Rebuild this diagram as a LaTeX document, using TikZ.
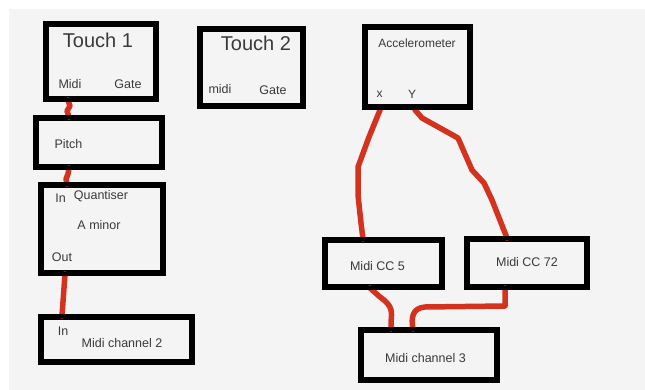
\documentclass[tikz,border=0pt]{standalone}
\usepackage{fontspec}
\setmainfont{Liberation Sans}
\usetikzlibrary{calc}
\definecolor{bgc}{HTML}{F4F4F4}
\definecolor{wirec}{HTML}{D2321E}
\definecolor{txtc}{HTML}{3A3A3A}
\tikzset{
  blk/.style={draw=black, line width=4pt, fill=bgc, inner sep=0pt},
  lbl/.style={text=txtc, font=\fontsize{12.5}{14}\selectfont, inner sep=0pt},
  ttl/.style={text=txtc, font=\fontsize{20}{23}\selectfont, inner sep=0pt},
  tiny/.style={text=txtc, font=\fontsize{12}{14}\selectfont, inner sep=0pt},
  wire/.style={draw=wirec, line width=5.5pt, line cap=round, line join=round},
}
\begin{document}
\begin{tikzpicture}[x=1pt,y=-1pt]
\useasboundingbox (0,0) rectangle (645,390);
\fill[white] (0,0) rectangle (645,390);
\fill[bgc] (9,9) rectangle (645,390);

% boxes
\node[blk, minimum width=108, minimum height=73] (t1) at (101,61.5) {};
\node[blk, minimum width=101, minimum height=75] (t2) at (251.5,67.5) {};
\node[blk, minimum width=124, minimum height=47] (pitch) at (99,142.5) {};
\node[blk, minimum width=120, minimum height=86] (quant) at (102,229) {};
\node[blk, minimum width=149, minimum height=43] (mc2) at (116.5,339.5) {};
\node[blk, minimum width=103, minimum height=78] (acc) at (417.5,67) {};
\node[blk, minimum width=115, minimum height=45] (cc5) at (383.5,263.5) {};
\node[blk, minimum width=118, minimum height=46] (cc72) at (527,263) {};
\node[blk, minimum width=134, minimum height=48] (mc3) at (429,355) {};

% texts
\node[ttl] (t1title) at (98,40) {Touch 1};
\node[lbl] (t1midi) at (70,84) {Midi};
\node[lbl] (t1gate) at (128,84) {Gate};
\node[ttl] (t2title) at (256,43) {Touch 2};
\node[lbl] (t2midi) at (220,89) {midi};
\node[lbl] (t2gate) at (273,90) {Gate};
\node[lbl] (pitchtxt) at (68.5,144) {Pitch};
\node[lbl] (quantin) at (60.5,198) {In};
\node[lbl] (quanttxt) at (101,196) {Quantiser};
\node[lbl] (quantmin) at (99,225) {A minor};
\node[lbl] (quantout) at (62,257) {Out};
\node[lbl] (mc2in) at (63,331) {In};
\node[lbl] (mc2txt) at (122,343) {Midi channel 2};
\node[tiny] (acctxt) at (417,43) {Accelerometer};
\node[tiny] (accx) at (379.5,94) {x};
\node[tiny] (accy) at (412,94) {Y};
\node[lbl] (cc5txt) at (377.5,266) {Midi CC 5};
\node[lbl] (cc72txt) at (527,262) {Midi CC 72};
\node[lbl] (mc3txt) at (425.5,358) {Midi channel 3};

% wires
\draw[wire] ($(t1.south west)+(23,0)$) -- (70,106) -- (67,111) -- ($(pitch.north west)+(34,0)$);
\draw[wire] ($(pitch.south west)+(34,0)$) -- (68,174) -- (66,179) -- ($(quant.north west)+(27,0)$);
\draw[wire] ($(quant.south west)+(25,0)$) -- ($(mc2.north west)+(22,0)$);
\draw[wire] ($(acc.south west)+(16,2)$) -- (369,137) -- (358,167) -- (358,195) -- (361,223) -- ($(cc5.north west)+(39,0)$);
\draw[wire] ($(acc.south west)+(51,2)$) -- (422,118) -- (440,128) -- (458,138) -- (472,170) -- (484,183) -- (492,200) -- ($(cc72.north west)+(41,0)$);
\draw[wire] ($(cc5.south west)+(46,0)$) -- (380,297) .. controls (393,306) and (392,312) .. (391,322) -- ($(mc3.north west)+(31,0)$);
\draw[wire] ($(cc72.south west)+(39,0)$) -- (505,306) -- (425,307) .. controls (412,308) and (411,318) .. ($(mc3.north west)+(53,0)$);

% redraw box borders over wire ends
\foreach \n in {t1,t2,pitch,quant,mc2,acc,cc5,cc72,mc3}{
  \draw[black, line width=4pt] (\n.north west) rectangle (\n.south east);
}
\end{tikzpicture}
\end{document}
